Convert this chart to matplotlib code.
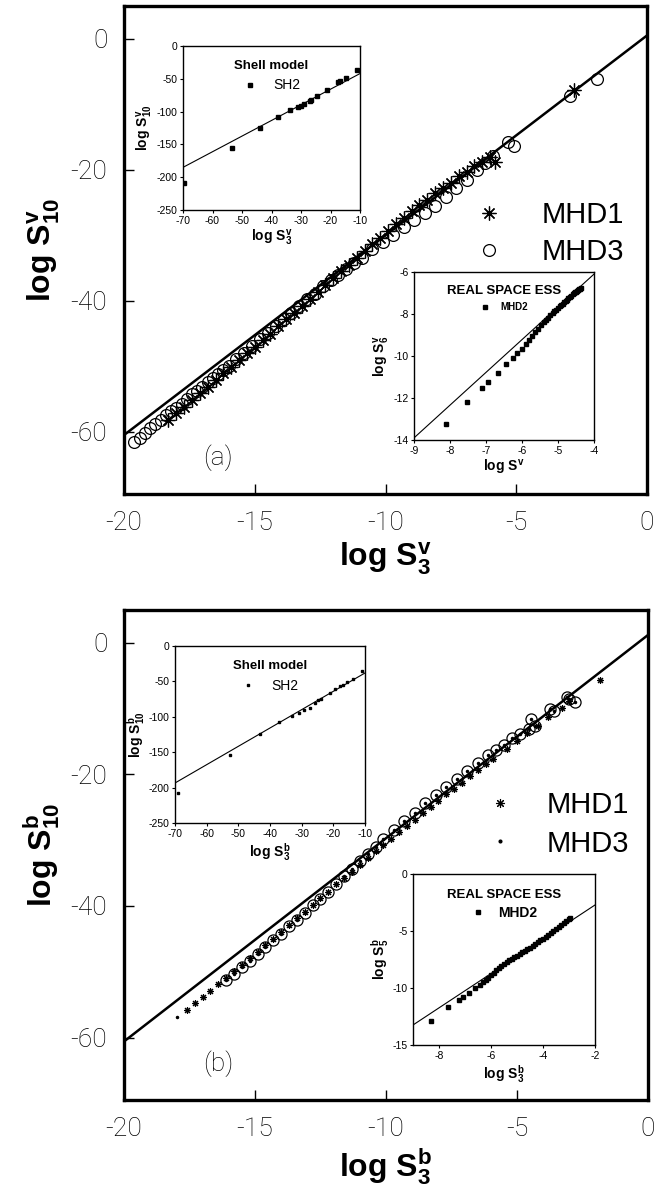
import numpy as np
import matplotlib
matplotlib.use('Agg')
import matplotlib.pyplot as plt

plt.rcParams['font.family'] = ['Liberation Sans', 'DejaVu Sans']
plt.rcParams['mathtext.fontset'] = 'custom'
plt.rcParams['mathtext.rm'] = 'Liberation Sans'
plt.rcParams['mathtext.it'] = 'Liberation Sans:italic'
plt.rcParams['mathtext.bf'] = 'Liberation Sans:bold'
plt.rcParams['mathtext.default'] = 'bf'
plt.rcParams['axes.unicode_minus'] = False

# ---------------- datos panel (a): velocidad ----------------
a_fit = (3.05, 0.5)  # pendiente, ordenada de la recta

a_mhd1_x = [-18.3, -18.0, -17.7, -17.4, -17.1, -16.8, -16.5, -16.2, -15.9, -15.6,
            -15.3, -15.0, -14.7, -14.4, -14.1, -13.8, -13.5, -13.2, -12.9, -12.6,
            -12.3, -12.0, -11.7, -11.4, -11.1, -10.8, -10.5, -10.2, -9.9, -9.6,
            -9.3, -9.0, -8.7, -8.4, -8.1, -7.8, -7.5, -7.2, -6.9, -6.6,
            -6.3, -6.0, -5.8, -2.8]
a_mhd1_y = [-58.2, -57.2, -56.2, -55.1, -54.1, -53.1, -52.1, -51.1, -50.1, -49.0,
            -48.0, -47.0, -46.0, -45.0, -43.9, -42.8, -41.8, -40.8, -39.7, -38.7,
            -37.6, -36.5, -35.5, -34.5, -33.5, -32.4, -31.4, -30.4, -29.3, -28.3,
            -27.4, -26.3, -25.4, -24.6, -23.6, -22.8, -22.0, -21.0, -20.3, -19.5,
            -18.8, -18.1, -18.8, -7.9]

a_mhd3_x = [-19.6, -19.4, -19.2, -19.0, -18.8, -18.6, -18.4, -18.2, -18.0, -17.8,
            -17.6, -17.4, -17.2, -17.0, -16.8, -16.6, -16.4, -16.2, -16.0, -15.7,
            -15.4, -15.1, -14.8, -14.5, -14.2, -13.9, -13.6, -13.3, -13.0, -12.7,
            -12.4, -12.1, -11.8, -11.5, -11.2, -10.9, -10.5, -10.1, -9.7, -9.3,
            -8.9, -8.5, -8.1, -7.7, -7.3, -6.9, -6.5, -6.2, -5.9, -5.3,
            -5.1, -2.95, -1.9]
a_mhd3_y = [-61.5, -60.9, -60.2, -59.5, -58.8, -58.2, -57.5, -56.9, -56.3, -55.7,
            -55.0, -54.3, -53.7, -53.1, -52.4, -51.8, -51.2, -50.6, -50.0, -48.9,
            -47.9, -46.9, -45.9, -44.9, -43.9, -42.8, -41.8, -40.8, -39.8, -38.9,
            -37.8, -36.9, -36.0, -35.1, -34.2, -33.4, -32.1, -31.0, -29.9, -28.8,
            -27.7, -26.6, -25.5, -24.2, -22.8, -21.5, -20.1, -19.0, -17.9, -15.7,
            -16.3, -8.7, -6.2]

# inset modelo de capas (a)
a_sh2_fit = (2.383, -18.2)
a_sh2_x = [-69.65, -53.4, -43.8, -37.8, -33.6, -31.1, -29.9, -29.1, -27.0, -26.6,
           -24.5, -21.1, -17.4, -16.7, -14.8, -10.9]
a_sh2_y = [-208.3, -155.6, -124.5, -107.9, -97.4, -92.9, -90.9, -88.4, -83.3, -81.8,
           -76.3, -66.8, -54.2, -53.2, -49.2, -36.6]

# inset ESS espacio real (a)
a_ess_fit = (1.56, 0.14)
a_mhd2_x = [-8.11, -7.53, -7.10, -6.95, -6.68, -6.44, -6.25, -6.13, -6.01, -5.90,
            -5.80, -5.71, -5.63, -5.55, -5.47, -5.40, -5.33, -5.27, -5.21, -5.15,
            -5.10, -5.05, -5.00, -4.95, -4.91, -4.87, -4.83, -4.79, -4.75, -4.71,
            -4.67, -4.63, -4.59, -4.56, -4.53, -4.50, -4.47, -4.44, -4.41, -4.38,
            -4.36]
a_mhd2_y = [-13.25, -12.21, -11.50, -11.26, -10.79, -10.39, -10.10, -9.86, -9.66, -9.43,
            -9.23, -9.04, -8.88, -8.70, -8.54, -8.40, -8.28, -8.17, -8.07, -7.97,
            -7.88, -7.80, -7.72, -7.64, -7.57, -7.50, -7.43, -7.37, -7.31, -7.25,
            -7.19, -7.13, -7.07, -7.02, -6.97, -6.93, -6.89, -6.86, -6.83, -6.80,
            -6.78]

# ---------------- datos panel (b): campo magnetico ----------------
b_fit = (3.09, 1.2)

b_mhd1_x = [-17.6, -17.3, -17.0, -16.7, -16.4, -16.1, -15.8, -15.5, -15.2, -14.9,
            -14.6, -14.3, -14.0, -13.7, -13.4, -13.1, -12.8, -12.5, -12.2, -11.9,
            -11.6, -11.3, -11.0, -10.7, -10.4, -10.1, -9.8, -9.5, -9.2, -8.9,
            -8.6, -8.3, -8.0, -7.7, -7.4, -7.1, -6.8, -6.5, -6.2, -5.9,
            -5.4, -5.0, -4.6, -4.2, -3.8, -3.3, -3.0, -1.85]
b_mhd1_y = [-55.8, -54.8, -53.8, -52.9, -51.9, -50.9, -49.9, -49.0, -47.9, -47.0,
            -46.0, -45.0, -44.0, -42.9, -41.9, -40.9, -39.8, -38.8, -37.8, -36.7,
            -35.8, -34.8, -33.7, -32.7, -31.7, -30.7, -29.8, -28.7, -27.8, -26.9,
            -25.8, -24.9, -24.0, -23.0, -22.2, -21.3, -20.3, -19.4, -18.4, -17.6,
            -16.2, -14.9, -13.7, -12.6, -11.3, -9.9, -8.9, -5.7]

b_mhd3_x = [-17.96, -16.1, -15.8, -15.5, -15.2, -14.9, -14.6, -14.3, -14.0, -13.7,
            -13.4, -13.1, -12.8, -12.5, -12.2, -11.9, -11.6, -11.3, -11.0, -10.7,
            -10.4, -10.1, -9.7, -9.3, -8.9, -8.5, -8.1, -7.7, -7.3, -6.9,
            -6.5, -6.1, -5.8, -5.5, -5.2, -4.9, -4.55, -4.45, -4.3, -3.75,
            -3.6, -3.1, -3.0, -2.8]
b_mhd3_y = [-56.9, -51.2, -50.3, -49.3, -48.3, -47.3, -46.3, -45.2, -44.2, -43.1,
            -42.1, -41.1, -39.9, -38.9, -37.8, -36.6, -35.5, -34.4, -33.2, -32.1,
            -31.0, -29.8, -28.5, -27.1, -25.8, -24.4, -23.2, -21.9, -20.7, -19.5,
            -18.3, -17.1, -16.3, -15.5, -14.4, -13.8, -13.1, -11.6, -12.6, -10.1,
            -10.4, -8.2, -8.6, -9.0]

b_sh2_fit = (2.59, -12.2)
b_sh2_x = [-68.9, -52.5, -43.2, -37.3, -33.0, -30.9, -29.3, -27.3, -25.8, -24.7,
           -23.9, -20.9, -19.4, -18.0, -16.9, -15.7, -13.7, -10.9]
b_sh2_y = [-207.2, -153.5, -123.8, -107.8, -98.4, -94.6, -90.9, -87.1, -80.0, -75.8,
           -74.9, -66.4, -60.7, -57.0, -54.6, -50.8, -46.1, -35.3]

b_ess_fit = (1.504, 0.29)
b_mhd2_x = [-8.30, -7.65, -7.25, -7.09, -6.83, -6.60, -6.44, -6.3, -6.2, -6.1,
            -6.0, -5.9, -5.8, -5.7, -5.6, -5.5, -5.4, -5.3, -5.2, -5.1,
            -5.0, -4.9, -4.8, -4.7, -4.6, -4.5, -4.4, -4.3, -4.2, -4.1,
            -4.0, -3.9, -3.8, -3.7, -3.6, -3.5, -3.4, -3.3, -3.2, -3.1,
            -3.0, -2.95]
b_mhd2_y = [-12.87, -11.70, -11.05, -10.82, -10.41, -10.03, -9.72, -9.45, -9.28, -9.10,
            -8.90, -8.65, -8.42, -8.22, -8.05, -7.88, -7.72, -7.58, -7.44, -7.30,
            -7.16, -7.02, -6.88, -6.74, -6.60, -6.45, -6.30, -6.14, -5.98, -5.82,
            -5.66, -5.50, -5.33, -5.16, -4.99, -4.82, -4.65, -4.47, -4.29, -4.11,
            -3.94, -3.84]

W, H = 655, 1188


def caja(l, t, r, b):
    # convierte un rectangulo en pixeles a coordenadas de figura
    return [l / W, 1 - b / H, (r - l) / W, (b - t) / H]


def recta(ax, fit, x0, x1, lw):
    xs = np.array([x0, x1])
    ax.plot(xs, fit[0] * xs + fit[1], color='black', lw=lw, zorder=1)


def panel_principal(ax, comp, etiqueta):
    ax.set_xlim(-20, 0)
    ax.set_ylim(-69.5, 5)
    ax.set_xticks([-20, -15, -10, -5, 0])
    ax.set_yticks([-60, -40, -20, 0])
    ax.tick_params(direction='in', length=7, width=1.0, labelsize=19, pad=12)
    for lab in ax.get_xticklabels() + ax.get_yticklabels():
        lab.set_fontfamily(['Roboto', 'DejaVu Sans'])
        lab.set_fontweight('light')
    for s in ax.spines.values():
        s.set_linewidth(2.4)
    ax.set_xlabel('log S$_3^{%s}$' % comp, fontsize=23, fontweight='bold', labelpad=4)
    ax.set_ylabel('log S$_{10}^{%s}$' % comp, fontsize=23, fontweight='bold', labelpad=6)
    ax.text(0.18, 0.075, etiqueta, transform=ax.transAxes, fontsize=19,
            fontfamily=['Roboto', 'DejaVu Sans'], fontweight='light', ha='center', va='center')


def inset_estilo(ax):
    ax.tick_params(direction='out', length=2.5, width=0.8, labelsize=7.5, pad=1.5)
    for s in ax.spines.values():
        s.set_linewidth(1.0)


fig = plt.figure(figsize=(W / 100, H / 100), dpi=100)

# ================= panel (a) =================
ax_a = fig.add_axes(caja(124, 6, 647, 494))
recta(ax_a, a_fit, -20, 0, 1.8)
ax_a.plot(a_mhd1_x, a_mhd1_y, ls='none', marker=(8, 2, 0), ms=10, mec='black', mew=0.9,
          label='MHD1', zorder=3)
ax_a.plot(a_mhd3_x, a_mhd3_y, ls='none', marker='o', ms=8.5, mfc='none', mec='black', mew=0.9,
          label='MHD3', zorder=2)
panel_principal(ax_a, 'v', '(a)')
ax_a.legend(loc='upper left', bbox_to_anchor=(0.67, 0.6), frameon=False, fontsize=21,
            handlelength=1.0, handletextpad=1.3, labelspacing=0.3, borderpad=0, borderaxespad=0)

# inset modelo de capas (a)
ia1 = fig.add_axes(caja(183, 46, 360, 210))
recta(ia1, a_sh2_fit, -70, -10, 0.8)
ia1.plot(a_sh2_x, a_sh2_y, ls='none', marker='s', ms=2.6, color='black', label='SH2')
ia1.set_xlim(-70, -10)
ia1.set_ylim(-250, 0)
ia1.set_xticks(np.arange(-70, -9, 10))
ia1.set_yticks(np.arange(-250, 1, 50))
inset_estilo(ia1)
ia1.set_xlabel('log S$_3^v$', fontsize=10, fontweight='bold', labelpad=2)
ia1.set_ylabel('log S$_{10}^v$', fontsize=10, fontweight='bold', labelpad=1)
ia1.legend(loc='upper center', bbox_to_anchor=(0.5, 0.96), frameon=False, fontsize=10,
           title='Shell model', title_fontproperties={'weight': 'bold', 'size': 9.5},
           handlelength=1.0, handletextpad=1.2, borderpad=0)

# inset ESS espacio real (a)
ia2 = fig.add_axes(caja(414, 272, 594, 440))
recta(ia2, a_ess_fit, -9, -4, 0.8)
ia2.plot(a_mhd2_x, a_mhd2_y, ls='none', marker='s', ms=2.6, color='black', label='MHD2')
ia2.set_xlim(-9, -4)
ia2.set_ylim(-14, -6)
ia2.set_xticks(np.arange(-9, -3, 1))
ia2.set_yticks(np.arange(-14, -5, 2))
inset_estilo(ia2)
ia2.set_xlabel('log S$^v$', fontsize=10, fontweight='bold', labelpad=2)
ia2.set_ylabel('log S$_6^v$', fontsize=10, fontweight='bold', labelpad=1)
ia2.legend(loc='upper center', bbox_to_anchor=(0.5, 0.95), frameon=False,
           prop={'weight': 'bold', 'size': 7}, title='REAL SPACE ESS',
           title_fontproperties={'weight': 'bold', 'size': 9.5},
           handlelength=1.0, handletextpad=1.0, borderpad=0)

# ================= panel (b) =================
ax_b = fig.add_axes(caja(124, 610, 648, 1100))
recta(ax_b, b_fit, -20, 0, 1.8)
ax_b.plot(b_mhd1_x, b_mhd1_y, ls='none', marker=(8, 2, 0), ms=5, mec='black', mew=0.8,
          label='MHD1', zorder=3)
ax_b.plot(b_mhd3_x[1:], b_mhd3_y[1:], ls='none', marker='o', ms=8, mfc='none', mec='black',
          mew=0.9, zorder=2)
ax_b.plot(b_mhd3_x, b_mhd3_y, ls='none', marker='o', ms=1.5, color='black', label='MHD3', zorder=3)
panel_principal(ax_b, 'b', '(b)')
ax_b.legend(loc='upper left', bbox_to_anchor=(0.69, 0.63), frameon=False, fontsize=21,
            handlelength=1.0, handletextpad=1.1, labelspacing=0.35, borderpad=0, borderaxespad=0,
            markerscale=1.3)

ib1 = fig.add_axes(caja(175, 646, 365, 823))
recta(ib1, b_sh2_fit, -70, -10, 0.8)
ib1.plot(b_sh2_x, b_sh2_y, ls='none', marker='s', ms=2.0, color='black', label='SH2')
ib1.set_xlim(-70, -10)
ib1.set_ylim(-250, 0)
ib1.set_xticks(np.arange(-70, -9, 10))
ib1.set_yticks(np.arange(-250, 1, 50))
inset_estilo(ib1)
ib1.set_xlabel('log S$_3^b$', fontsize=10, fontweight='bold', labelpad=2)
ib1.set_ylabel('log S$_{10}^b$', fontsize=10, fontweight='bold', labelpad=1)
ib1.legend(loc='upper center', bbox_to_anchor=(0.5, 0.96), frameon=False, fontsize=10,
           title='Shell model', title_fontproperties={'weight': 'bold', 'size': 9.5},
           handlelength=1.0, handletextpad=1.2, borderpad=0)

ib2 = fig.add_axes(caja(413, 874, 595, 1045))
recta(ib2, b_ess_fit, -9, -2, 0.8)
ib2.plot(b_mhd2_x, b_mhd2_y, ls='none', marker='s', ms=2.6, color='black', label='MHD2')
ib2.set_xlim(-9, -2)
ib2.set_ylim(-15, 0)
ib2.set_xticks([-8, -6, -4, -2])
ib2.set_yticks([-15, -10, -5, 0])
inset_estilo(ib2)
ib2.set_xlabel('log S$_3^b$', fontsize=10, fontweight='bold', labelpad=2)
ib2.set_ylabel('log S$_5^b$', fontsize=10, fontweight='bold', labelpad=1)
ib2.legend(loc='upper center', bbox_to_anchor=(0.5, 0.95), frameon=False,
           prop={'weight': 'bold', 'size': 10}, title='REAL SPACE ESS',
           title_fontproperties={'weight': 'bold', 'size': 9.5},
           handlelength=1.0, handletextpad=1.0, borderpad=0, labelspacing=0.3)

fig.savefig('out.png', dpi=100)
